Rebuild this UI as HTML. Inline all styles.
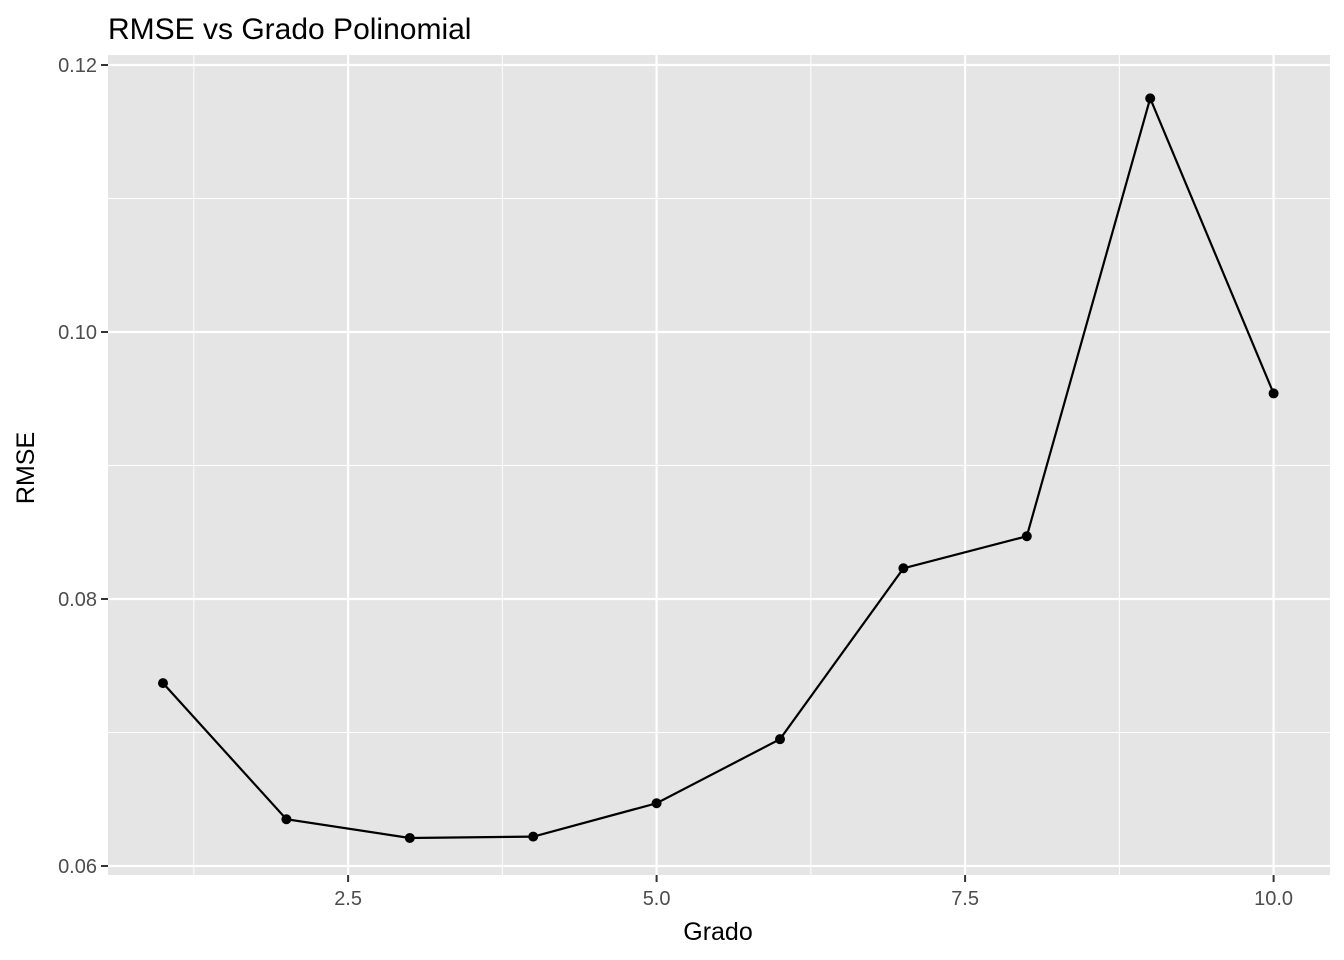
<!DOCTYPE html>
<html><head><meta charset="utf-8"><style>
body{margin:0;background:#fff;}
svg{display:block;font-family:"Liberation Sans",Arial,sans-serif;}
</style></head><body>
<svg id="chart" width="1344" height="960">
<text x="108" y="39" font-size="30" fill="#000">RMSE vs Grado Polinomial</text>
<rect x="108" y="55" width="1222" height="820" fill="#e5e5e5"/>
<g id="grid"></g><g id="axes"></g><g id="series"></g>
<text x="718" y="940" font-size="25" text-anchor="middle">Grado</text>
<text transform="translate(34,468) rotate(-90)" font-size="25" text-anchor="middle">RMSE</text>
</svg>
<script>
const grados=[1,2,3,4,5,6,7,8,9,10];
const rmse=[0.0737,0.0635,0.0621,0.0622,0.0647,0.0695,0.0823,0.0847,0.1175,0.0954];
const xTicks=[2.5,5.0,7.5,10.0];
const xTickLabels=["2.5","5.0","7.5","10.0"];
const yTicks=[0.06,0.08,0.10,0.12];
const yTickLabels=["0.06","0.08","0.10","0.12"];
const NS="http://www.w3.org/2000/svg";
const X=v=>163+(v-1)*123.4;
const Y=v=>866-(v-0.06)/0.02*267;
function mk(tag,attrs,parent){const e=document.createElementNS(NS,tag);for(const k in attrs)e.setAttribute(k,attrs[k]);parent.appendChild(e);return e;}
const grid=document.getElementById('grid'),axes=document.getElementById('axes'),series=document.getElementById('series');
for(let i=0;i<yTicks.length-1;i++){const v=(yTicks[i]+yTicks[i+1])/2;const l=mk('line',{x1:108,x2:1330,y1:Y(v),y2:Y(v),stroke:'#fff','stroke-width':1},grid);

}
const xm=[1.25,3.75,6.25,8.75];
xm.forEach(v=>{const l=mk('line',{x1:X(v),x2:X(v),y1:55,y2:875,stroke:'#fff','stroke-width':1},grid);

});
yTicks.forEach((v,i)=>{const l=mk('line',{x1:108,x2:1330,y1:Y(v),y2:Y(v),stroke:'#fff','stroke-width':2.2},grid);


const t=mk('line',{x1:101,x2:108,y1:Y(v),y2:Y(v),stroke:'#333','stroke-width':2},axes);


const tx=mk('text',{x:97,y:Y(v)+7,'font-size':20,'text-anchor':'end',fill:'#4d4d4d'},axes);tx.textContent=yTickLabels[i];

});
xTicks.forEach((v,i)=>{const l=mk('line',{x1:X(v),x2:X(v),y1:55,y2:875,stroke:'#fff','stroke-width':2.2},grid);


const t=mk('line',{x1:X(v),x2:X(v),y1:875,y2:882,stroke:'#333','stroke-width':2},axes);


const tx=mk('text',{x:X(v),y:905,'font-size':20,'text-anchor':'middle',fill:'#4d4d4d'},axes);tx.textContent=xTickLabels[i];

});
const pl=mk('polyline',{points:grados.map((g,i)=>X(g)+','+Y(rmse[i])).join(' '),fill:'none',stroke:'#000','stroke-width':2.2},series);


grados.forEach((g,i)=>{const c=mk('circle',{cx:X(g),cy:Y(rmse[i]),r:5,fill:'#000'},series);

});
</script>
</body></html>
